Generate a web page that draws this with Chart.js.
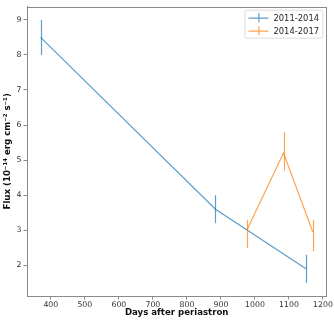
<!DOCTYPE html>
<html>
<head>
<meta charset="utf-8">
<script src="https://cdn.jsdelivr.net/npm/chart.js@4"></script>
<style>
  html, body { margin: 0; padding: 0; background: #fff; }
  #wrap { width: 334px; height: 321px; }
</style>
</head>
<body>
<div id="wrap"><canvas id="c" width="334" height="321"></canvas></div>
<script>
// data
const seriesNames = ['2011-2014', '2014-2017'];
const days1 = [370, 884, 1150];
const flux1 = [8.5, 3.6, 1.9];
const errDown1 = [0.5, 0.4, 0.4];
const errUp1 = [0.5, 0.4, 0.4];
const days2 = [976, 1084, 1170];
const flux2 = [3.0, 5.2, 2.95];
const errDown2 = [0.5, 0.5, 0.55];
const errUp2 = [0.3, 0.6, 0.35];
const xTicks = [400, 500, 600, 700, 800, 900, 1000, 1100, 1200];
const yTicks = [2, 3, 4, 5, 6, 7, 8, 9];

const BLUE = 'rgba(31,119,180,0.72)';
const ORANGE = 'rgba(255,127,14,0.72)';
const FRAME = '#8a8a8a';
const FONT = 'DejaVu Sans';

const toPoints = (xs, ys) => xs.map((x, i) => ({ x, y: ys[i] }));

// vertical error bars, frame and the legend box
const errorBars = {
  id: 'errorBars',
  afterDatasetsDraw(chart) {
    const { ctx, scales: { x, y } } = chart;
    ctx.save();
    chart.data.datasets.forEach((ds) => {
      ctx.strokeStyle = ds.borderColor;
      ctx.lineWidth = 1.2;
      ds.data.forEach((p, i) => {
        const px = Math.round(x.getPixelForValue(p.x)) + 0.5;
        ctx.beginPath();
        ctx.moveTo(px, y.getPixelForValue(p.y - ds.errDown[i]));
        ctx.lineTo(px, y.getPixelForValue(p.y + ds.errUp[i]));
        ctx.stroke();
      });
    });
    ctx.restore();
  },
  afterDraw(chart) {
    const { ctx, chartArea: a } = chart;
    ctx.save();
    ctx.strokeStyle = FRAME;
    ctx.lineWidth = 1;
    ctx.strokeRect(Math.round(a.left) + 0.5, Math.round(a.top) + 0.5,
      Math.round(a.right - a.left), Math.round(a.bottom - a.top));

    // legend in upper right
    const bx = a.right - 82, by = a.top + 3, bw = 78, bh = 28;
    ctx.fillStyle = 'rgba(255,255,255,0.8)';
    ctx.strokeStyle = '#dcdcdc';
    ctx.beginPath();
    ctx.roundRect(bx + 0.5, by + 0.5, bw, bh, 2);
    ctx.fill();
    ctx.stroke();
    ctx.font = '8.4px "' + FONT + '"';
    ctx.textBaseline = 'middle';
    chart.data.datasets.forEach((ds, i) => {
      const ry = by + 8 + i * 13;
      ctx.strokeStyle = ds.borderColor;
      ctx.lineWidth = 1.2;
      ctx.beginPath();
      ctx.moveTo(bx + 4, ry + 0.5);
      ctx.lineTo(bx + 24, ry + 0.5);
      ctx.moveTo(bx + 14.5, ry - 4.5);
      ctx.lineTo(bx + 14.5, ry + 4.5);
      ctx.stroke();
      ctx.fillStyle = '#262626';
      ctx.fillText(ds.label, bx + 29, ry + 1);
    });
    ctx.restore();
  }
};

new Chart(document.getElementById('c'), {
  type: 'scatter',
  data: {
    datasets: [
      {
        label: seriesNames[0],
        data: toPoints(days1, flux1),
        errDown: errDown1,
        errUp: errUp1,
        showLine: true,
        borderColor: BLUE,
        borderWidth: 1.2,
        pointRadius: 0
      },
      {
        label: seriesNames[1],
        data: toPoints(days2, flux2),
        errDown: errDown2,
        errUp: errUp2,
        showLine: true,
        borderColor: ORANGE,
        borderWidth: 1.2,
        pointRadius: 0
      }
    ]
  },
  options: {
    responsive: false,
    animation: false,
    layout: { padding: { top: 5, right: 7, left: 0, bottom: 0 } },
    plugins: { legend: { display: false }, tooltip: { enabled: false } },
    scales: {
      x: {
        type: 'linear',
        min: 330,
        max: 1210,
        afterBuildTicks: (s) => { s.ticks = xTicks.map((v) => ({ value: v })); },
        afterFit: (s) => { s.height = 25; },
        grid: { drawOnChartArea: false, color: FRAME, tickLength: 3.5 },
        border: { color: FRAME },
        ticks: {
          color: '#333', padding: 1, maxRotation: 0,
          callback: (v) => String(v),
          font: { family: FONT, size: 7.8 }
        },
        title: {
          display: true,
          text: 'Days after periastron',
          color: '#111',
          padding: { top: 0, bottom: 3 },
          font: { family: FONT, size: 8.6, weight: 'bold' }
        }
      },
      y: {
        type: 'linear',
        min: 1.125,
        max: 9.375,
        afterBuildTicks: (s) => { s.ticks = yTicks.map((v) => ({ value: v })); },
        afterFit: (s) => { s.width = 27; },
        grid: { drawOnChartArea: false, color: FRAME, tickLength: 3.5 },
        border: { color: FRAME },
        ticks: {
          color: '#333', padding: 2,
          callback: (v) => String(v),
          font: { family: FONT, size: 7.8 }
        },
        title: {
          display: true,
          text: 'Flux (10\u207B\u00B9\u2074 erg cm\u207B\u00B2 s\u207B\u00B9)',
          color: '#111',
          padding: { top: 3, bottom: 3 },
          font: { family: FONT, size: 8.6, weight: 'bold' }
        }
      }
    }
  },
  plugins: [errorBars]
});
</script>
</body>
</html>
